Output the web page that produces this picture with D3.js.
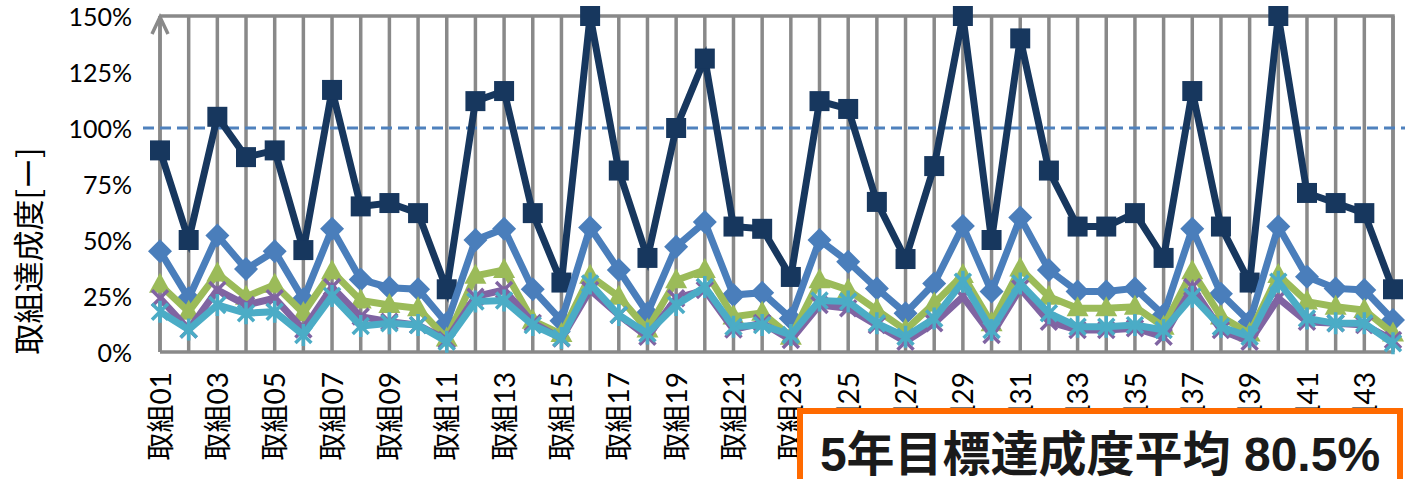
<!DOCTYPE html>
<html>
<head>
<meta charset="utf-8">
<script src="https://cdn.jsdelivr.net/npm/d3@7"></script>
<style>
  html, body { margin: 0; padding: 0; background: #fff; }
  svg { display: block; }
</style>
</head>
<body>
<svg id="chart" width="1405" height="479"></svg>
<script>
// Categories (取組01 … 取組44)
const categories = [
  "取組01","取組02","取組03","取組04","取組05","取組06","取組07","取組08","取組09","取組10",
  "取組11","取組12","取組13","取組14","取組15","取組16","取組17","取組18","取組19","取組20",
  "取組21","取組22","取組23","取組24","取組25","取組26","取組27","取組28","取組29","取組30",
  "取組31","取組32","取組33","取組34","取組35","取組36","取組37","取組38","取組39","取組40",
  "取組41","取組42","取組43","取組44"
];

// Achievement rate per item (%), one array per series
const seriesYear5 = [90,50,105,87,90,45.5,117,65,66.5,62,28,112,116.5,62,31,150,81,42,100,131,56,55,33.5,112,108.5,67,41.5,83,150,50,140,81,56,56,62,42,116.5,56,31,150,71,66.5,62,28];
const seriesYear4 = [45,24,52,37,45,23.5,55,32.4,28.7,28,12.8,50,55,28,14,55.6,36.6,17.3,47,58,25.4,26.5,15,50,40.3,28.4,17.3,30.6,56.2,27,60,36.6,27,27,28.4,16.5,55,26,13.5,56,33.6,28.4,27.7,14.3];
const seriesYear3 = [30,18,35,24.7,30,17.4,36,23,21,19.5,6,34,36.6,14,8,34,24.7,10,32,36.6,15.8,17.5,6.8,32,27.7,18.7,9.8,21.7,34.4,12.8,37.3,24.7,19.5,19.5,20.2,11.3,36,15.8,8.3,34.4,22.5,20.2,18.7,8.3];
const seriesYear2 = [24,10,27.7,21,24,10,29,15.8,13.5,12,5.4,24.7,27.7,13,6,27.7,16.5,6.8,24,27.7,10,13,5.4,21,19.5,12,4.6,12.8,24.7,7.6,28.4,13.5,9.8,9.8,10.6,6.8,29,9.8,4.6,24,13.5,12.8,12,5.4];
const seriesYear1 = [18,10,21,17.3,18,7.6,25,11.6,12.8,12,4.6,22.5,23,12,6.2,30.6,16.5,8.3,21,29,11.3,12,7.6,23,22.5,12.8,6.8,15,31.4,9.8,30.6,17.3,11.3,11.3,12,9.8,24.7,11.3,6.8,31.4,15,12.8,12.8,3.9];

// Axis ticks and reference line
const yTickValues = [0, 25, 50, 75, 100, 125, 150];
const yTickLabels = ["0%", "25%", "50%", "75%", "100%", "125%", "150%"];
const targetLine = 100;
const yAxisTitle = "取組達成度[ー]";
const summaryText = "5年目標達成度平均 80.5%";

const svg = d3.select("#chart");
const plotLeft = 160, plotRight = 1393, plotTop = 16, plotBottom = 352;

const x = d3.scalePoint().domain(categories).range([plotLeft, plotRight]).padding(0);
const y = d3.scaleLinear().domain([0, 150]).range([plotBottom, plotTop]);

const gridColor = "#898989";

// Vertical gridlines, one per category
svg.append("g").selectAll("line").data(categories).join("line")
  .attr("x1", d => x(d)).attr("x2", d => x(d))
  .attr("y1", plotTop).attr("y2", plotBottom)
  .attr("stroke", gridColor).attr("stroke-width", 3.5);

// Plot frame (top and right)
svg.append("path")
  .attr("d", `M${plotLeft},${plotTop}H${plotRight}V${plotBottom}`)
  .attr("fill", "none").attr("stroke", gridColor).attr("stroke-width", 3.5);

// X axis baseline
svg.append("line")
  .attr("x1", plotLeft).attr("x2", plotRight).attr("y1", plotBottom).attr("y2", plotBottom)
  .attr("stroke", gridColor).attr("stroke-width", 3.5);

// Y axis with an open arrow head
svg.append("line")
  .attr("x1", plotLeft).attr("x2", plotLeft).attr("y1", plotBottom).attr("y2", plotTop)
  .attr("stroke", gridColor).attr("stroke-width", 3.5);
svg.append("path")
  .attr("d", `M${plotLeft - 8},${plotTop + 18}L${plotLeft},${plotTop + 1}L${plotLeft + 8},${plotTop + 18}`)
  .attr("fill", "none").attr("stroke", gridColor).attr("stroke-width", 3.5)
  .attr("stroke-linejoin", "miter");

// Y tick labels
const yAxis = d3.axisLeft(y).tickValues(yTickValues)
  .tickFormat((d, i) => yTickLabels[i]).tickSize(0).tickPadding(28);
const gy = svg.append("g").attr("transform", `translate(${plotLeft},0)`).call(yAxis);
gy.select(".domain").remove();
gy.selectAll("text")
  .attr("font-family", "Lato, 'Noto Sans CJK JP', sans-serif")
  .attr("font-size", 25).attr("fill", "#000").attr("dy", "0.36em");

// X tick labels (every other category, rotated)
const xAxis = d3.axisBottom(x)
  .tickValues(categories.filter((d, i) => i % 2 === 0)).tickSize(0).tickPadding(0);
const gx = svg.append("g").attr("transform", `translate(0,${plotBottom})`).call(xAxis);
gx.select(".domain").remove();
gx.selectAll("text")
  .attr("font-family", "Lato, 'Noto Sans CJK JP', sans-serif")
  .attr("font-size", 28).attr("fill", "#000")
  .attr("text-anchor", "end")
  .attr("transform", "rotate(-90)")
  .attr("x", -20).attr("y", 0).attr("dy", "0.36em");

// Y axis title
svg.append("text")
  .attr("transform", "translate(29,251) rotate(-90)")
  .attr("text-anchor", "middle").attr("dy", "0.36em")
  .attr("font-family", "'Noto Sans CJK JP', sans-serif")
  .attr("font-size", 31).attr("fill", "#000")
  .text(yAxisTitle);

// Target reference line
svg.append("line")
  .attr("x1", 143).attr("x2", 1405).attr("y1", y(targetLine)).attr("y2", y(targetLine))
  .attr("stroke", "#4F81BD").attr("stroke-width", 3).attr("stroke-dasharray", "11,6");

// Marker shapes
const markers = {
  square:   { d: "M-10,-10h20v20h-20z", fill: true },
  diamond:  { d: "M0,-12L12,0L0,12L-12,0Z", fill: true },
  triangle: { d: "M0,-12L11,8L-11,8Z", fill: true },
  cross:    { d: "M-8,-8L8,8M-8,8L8,-8", fill: false },
  star:     { d: "M-8,-8L8,8M-8,8L8,-8M0,-11V11", fill: false }
};

const series = [
  { values: seriesYear5, color: "#17375E", marker: "square" },
  { values: seriesYear4, color: "#4A7EBB", marker: "diamond" },
  { values: seriesYear3, color: "#9BBB59", marker: "triangle" },
  { values: seriesYear2, color: "#8064A2", marker: "cross" },
  { values: seriesYear1, color: "#4BACC6", marker: "star" }
];

const line = d3.line().x((d, i) => x(categories[i])).y(d => y(d));

series.forEach(s => {
  const g = svg.append("g");
  g.append("path")
    .attr("d", line(s.values))
    .attr("fill", "none").attr("stroke", s.color)
    .attr("stroke-width", 7).attr("stroke-linejoin", "miter");
  const m = markers[s.marker];
  g.selectAll("path.mk").data(s.values).join("path")
    .attr("class", "mk")
    .attr("transform", (d, i) => `translate(${x(categories[i])},${y(d)})`)
    .attr("d", m.d)
    .attr("fill", m.fill ? s.color : "none")
    .attr("stroke", s.color)
    .attr("stroke-width", m.fill ? 0 : 3.5);
});

// Summary box
svg.append("rect")
  .attr("x", 800).attr("y", 411).attr("width", 600).attr("height", 90)
  .attr("fill", "#fff").attr("stroke", "#FF6A00").attr("stroke-width", 6);
svg.append("text")
  .attr("x", 1100).attr("y", 471)
  .attr("text-anchor", "middle")
  .attr("font-family", "'Liberation Sans', 'Noto Sans CJK JP', sans-serif")
  .attr("font-weight", "bold").attr("font-size", 48).attr("fill", "#1a1a1a")
  .text(summaryText);
</script>
</body>
</html>
